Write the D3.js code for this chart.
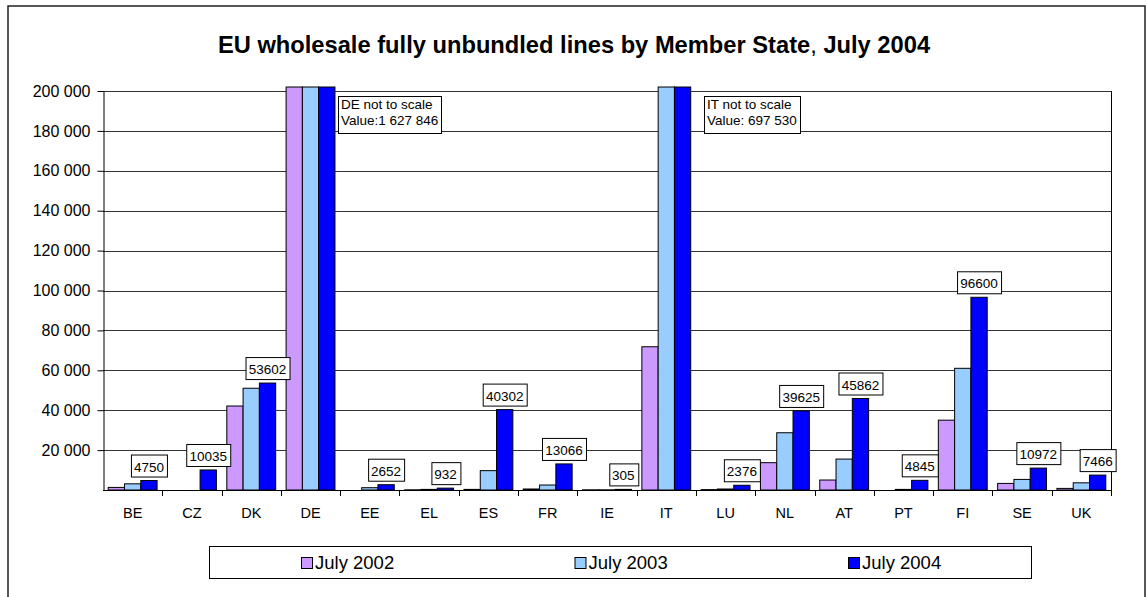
<!DOCTYPE html>
<html>
<head>
<meta charset="utf-8">
<script src="https://cdn.jsdelivr.net/npm/d3@7/dist/d3.min.js"></script>
<style>
  body { margin: 0; background: #fff; }
  svg text { font-family: Arial, "Liberation Sans", sans-serif; fill: #000; }
</style>
</head>
<body>
<script>
// data (DE and IT run off the scale)
var countries = ['BE', 'CZ', 'DK', 'DE', 'EE', 'EL', 'ES', 'FR', 'IE', 'IT', 'LU', 'NL', 'AT', 'PT', 'FI', 'SE', 'UK'];
var seriesNames = ['July 2002', 'July 2003', 'July 2004'];
var seriesColors = ['#CC99FF', '#99CCFF', '#0000FF'];
var july2002 = [1300, 0, 42100, 1000000, 0, 100, 300, 500, 100, 71800, 200, 13700, 5000, 0, 35000, 3300, 800];
var july2003 = [3100, 0, 51000, 1350000, 1150, 300, 9700, 2500, 100, 300000, 500, 28700, 15500, 300, 61000, 5300, 3600];
var july2004 = [4750, 10035, 53602, 1627846, 2652, 932, 40302, 13066, 305, 697530, 2376, 39625, 45862, 4845, 96600, 10972, 7466];
var yTicks = [20000, 40000, 60000, 80000, 100000, 120000, 140000, 160000, 180000, 200000];
var notes = [
  {country: 'DE', lines: ['DE not to scale', 'Value:1 627 846']},
  {country: 'IT', lines: ['IT not to scale', 'Value: 697 530']}
];

var width = 1146, height = 597;
var plot = {left: 103, right: 1111, top: 91, bottom: 490};

var svg = d3.select('body').append('svg')
  .attr('width', width)
  .attr('height', height);

// chart frame
svg.append('rect')
  .attr('x', 8).attr('y', 6)
  .attr('width', 1137).attr('height', 620)
  .attr('fill', 'none')
  .attr('stroke', '#222')
  .attr('stroke-width', 1.5);

// title (comma is not bold in the original)
var title = svg.append('text')
  .attr('x', 574).attr('y', 53)
  .attr('text-anchor', 'middle')
  .style('font-size', '23.7px')
  .style('font-weight', 'bold');
title.append('tspan').text('EU wholesale fully unbundled lines by Member State');
title.append('tspan').style('font-weight', 'normal').text(',');
title.append('tspan').text(' July 2004');

var x0 = d3.scaleBand()
  .domain(countries)
  .range([plot.left, plot.right])
  .paddingInner(0)
  .paddingOuter(0);

var x1 = d3.scaleBand()
  .domain(seriesNames)
  .range([0, x0.bandwidth()])
  .paddingInner(0)
  .paddingOuter(0.32);

var y = d3.scaleLinear()
  .domain([0, 200000])
  .range([plot.bottom, plot.top]);

var fmt = function(d) { return d3.format(',')(d).replace(/,/g, ' '); };

// gridlines
svg.append('g')
  .selectAll('line')
  .data(yTicks)
  .enter().append('line')
  .attr('x1', plot.left).attr('x2', plot.right)
  .attr('y1', function(d) { return Math.round(y(d)) + 0.5; })
  .attr('y2', function(d) { return Math.round(y(d)) + 0.5; })
  .attr('stroke', '#333')
  .attr('stroke-width', 1);

// right edge of plot area
svg.append('line')
  .attr('x1', plot.right + 0.5).attr('x2', plot.right + 0.5)
  .attr('y1', plot.top).attr('y2', plot.bottom)
  .attr('stroke', '#000');

// bars
var table = countries.map(function(c, i) {
  return {country: c, values: [july2002[i], july2003[i], july2004[i]]};
});
var cap = 202000;

var groups = svg.append('g')
  .selectAll('g')
  .data(table)
  .enter().append('g')
  .attr('transform', function(d) { return 'translate(' + x0(d.country) + ',0)'; });

groups.selectAll('rect')
  .data(function(d) {
    return d.values.map(function(v, j) { return {series: seriesNames[j], value: v, color: seriesColors[j]}; });
  })
  .enter().append('rect')
  .filter(function(d) { return d.value > 0; })
  .attr('x', function(d) { return x1(d.series); })
  .attr('width', x1.bandwidth())
  .attr('y', function(d) { return y(Math.min(d.value, cap)); })
  .attr('height', function(d) { return plot.bottom - y(Math.min(d.value, cap)); })
  .attr('fill', function(d) { return d.color; })
  .attr('stroke', '#000')
  .attr('stroke-width', 1);

// y axis
var yAxis = svg.append('g')
  .attr('transform', 'translate(' + (plot.left + 0.5) + ',0)')
  .call(d3.axisLeft(y).tickValues(yTicks).tickFormat(fmt).tickSize(6).tickSizeOuter(0).tickPadding(7));
yAxis.select('.domain').attr('stroke', '#000');
yAxis.selectAll('.tick line').attr('stroke', '#000');
yAxis.selectAll('text')
  .style('font-size', '16px')
  .style('font-family', 'Arial, "Liberation Sans", sans-serif');

// x axis: baseline, ticks between categories, labels centred
svg.append('line')
  .attr('x1', plot.left).attr('x2', plot.right + 1)
  .attr('y1', plot.bottom + 0.5).attr('y2', plot.bottom + 0.5)
  .attr('stroke', '#000');

svg.append('g')
  .selectAll('line')
  .data(countries.slice(1).concat(['end']))
  .enter().append('line')
  .attr('x1', function(d) { return d === 'end' ? plot.right + 0.5 : Math.round(x0(d)) + 0.5; })
  .attr('x2', function(d) { return d === 'end' ? plot.right + 0.5 : Math.round(x0(d)) + 0.5; })
  .attr('y1', plot.bottom)
  .attr('y2', plot.bottom + 6)
  .attr('stroke', '#000');

svg.append('g')
  .selectAll('text')
  .data(countries)
  .enter().append('text')
  .attr('x', function(d) { return x0(d) + x0.bandwidth() / 2; })
  .attr('y', 518)
  .attr('text-anchor', 'middle')
  .style('font-size', '14.5px')
  .text(function(d) { return d; });

// value labels on July 2004 bars
var labelled = table.filter(function(d) { return d.values[2] < 200000; });
var lab = svg.append('g')
  .selectAll('g')
  .data(labelled)
  .enter().append('g')
  .attr('transform', function(d) {
    var cx = x0(d.country) + x1(seriesNames[2]) + x1.bandwidth() / 2;
    return 'translate(' + cx + ',' + (y(d.values[2]) - 3) + ')';
  });

lab.append('text')
  .attr('text-anchor', 'middle')
  .attr('y', -6)
  .style('font-size', '13.5px')
  .text(function(d) { return d.values[2]; })
  .each(function() {
    var bb = this.getBBox();
    d3.select(this.parentNode).insert('rect', 'text')
      .attr('x', Math.round(bb.x - 3) + 0.5)
      .attr('y', -22.5)
      .attr('width', Math.round(bb.width + 6))
      .attr('height', 22)
      .attr('fill', '#fff')
      .attr('stroke', '#000');
  });

// not-to-scale notes
var noteOffset = {DE: 3, IT: 13};
var nb = svg.append('g')
  .selectAll('g')
  .data(notes)
  .enter().append('g')
  .attr('transform', function(d) {
    var bx = x0(d.country) + x1(seriesNames[2]) + x1.bandwidth() + noteOffset[d.country];
    return 'translate(' + Math.round(bx) + ',96)';
  });

nb.each(function(d) {
  var g = d3.select(this);
  var t = g.append('text')
    .style('font-size', '13.5px');
  d.lines.forEach(function(s, k) {
    t.append('tspan').attr('x', 3).attr('y', 13 + k * 15.5).text(s);
  });
  var bb = t.node().getBBox();
  g.insert('rect', 'text')
    .attr('x', 0.5).attr('y', 0.5)
    .attr('width', Math.round(bb.width + 6))
    .attr('height', 37)
    .attr('fill', '#fff')
    .attr('stroke', '#000');
});

// legend
var legend = svg.append('g');
legend.append('rect')
  .attr('x', 209.5).attr('y', 546.5)
  .attr('width', 822).attr('height', 32)
  .attr('fill', '#fff')
  .attr('stroke', '#000');

var lx = d3.scalePoint()
  .domain(seriesNames)
  .range([301, 848]);

var items = legend.selectAll('g.item')
  .data(seriesNames)
  .enter().append('g')
  .attr('class', 'item')
  .attr('transform', function(d) { return 'translate(' + lx(d) + ',0)'; });

items.append('rect')
  .attr('x', 0.5).attr('y', 557.5)
  .attr('width', 11).attr('height', 11)
  .attr('fill', function(d, i) { return seriesColors[i]; })
  .attr('stroke', '#000');

items.append('text')
  .attr('x', 14).attr('y', 569)
  .style('font-size', '18.5px')
  .text(function(d) { return d; });
</script>
</body>
</html>
